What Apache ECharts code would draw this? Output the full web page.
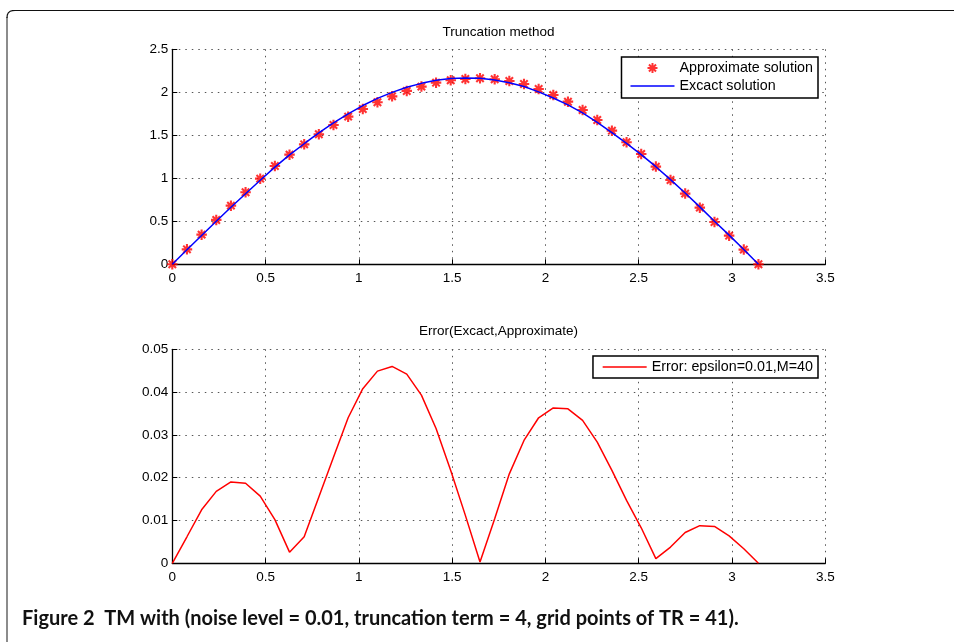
<!DOCTYPE html>
<html>
<head>
<meta charset="utf-8">
<script src="https://cdn.jsdelivr.net/npm/echarts@6/dist/echarts.min.js"></script>
<style>
html,body{margin:0;padding:0;background:#fff;}
#chart{width:954px;height:642px;}
</style>
</head>
<body>
<div id="chart"></div>
<script>
// grid points x_k (k = 0..40 on [0, pi])
const xGrid = [0, 0.0785, 0.1571, 0.2356, 0.3142, 0.3927, 0.4712, 0.5498, 0.6283, 0.7069,
  0.7854, 0.8639, 0.9425, 1.0210, 1.0996, 1.1781, 1.2566, 1.3352, 1.4137, 1.4923,
  1.5708, 1.6493, 1.7279, 1.8064, 1.8850, 1.9635, 2.0420, 2.1206, 2.1991, 2.2777,
  2.3562, 2.4347, 2.5133, 2.5918, 2.6704, 2.7489, 2.8274, 2.9060, 2.9845, 3.0631, 3.1416];

// Approximate solution (stars)
const approxSolution = [0, 0.174, 0.345, 0.516, 0.682, 0.837, 0.996, 1.143, 1.275, 1.395,
  1.512, 1.620, 1.717, 1.806, 1.884, 1.953, 2.016, 2.066, 2.112, 2.140,
  2.155, 2.163, 2.151, 2.132, 2.097, 2.039, 1.969, 1.891, 1.795, 1.678,
  1.554, 1.419, 1.283, 1.136, 0.981, 0.822, 0.659, 0.492, 0.333, 0.171, 0];

// Exact solution (blue line)
const exactSolution = [0, 0.169, 0.335, 0.500, 0.663, 0.820, 0.978, 1.130, 1.272, 1.402,
  1.527, 1.644, 1.750, 1.846, 1.929, 1.999, 2.058, 2.104, 2.140, 2.160,
  2.166, 2.163, 2.143, 2.111, 2.068, 2.005, 1.934, 1.854, 1.761, 1.650,
  1.531, 1.405, 1.275, 1.135, 0.985, 0.829, 0.668, 0.501, 0.339, 0.172, 0];

// Error |exact - approx| (red line)
const errorValues = [0, 0.0062, 0.0125, 0.0168, 0.0190, 0.0187, 0.0157, 0.0102, 0.0026, 0.0062,
  0.0155, 0.0248, 0.0340, 0.0408, 0.0449, 0.0460, 0.0442, 0.0393, 0.0315, 0.0217,
  0.0112, 0.0003, 0.0104, 0.0209, 0.0287, 0.0340, 0.0363, 0.0361, 0.0334, 0.0283,
  0.0217, 0.0147, 0.0083, 0.0011, 0.0038, 0.0072, 0.0088, 0.0086, 0.0064, 0.0034, 0];

const seriesNames = ['Approximate solution', 'Excact solution', 'Error: epsilon=0.01,M=40'];
const plotTitles = ['Truncation method', 'Error(Excact,Approximate)'];
const captionText = 'Figure 2  TM with (noise level = 0.01, truncation term = 4, grid points of TR = 41).';

const starPath = 'path://M8 0L12 0L12 20L8 20Z M0 8L20 8L20 12L0 12Z M4.34 1.52L18.48 15.66L15.66 18.48L1.52 4.34Z M15.66 1.52L18.48 4.34L4.34 18.48L1.52 15.66Z';
const lineIcon = 'path://M0 0L44 0L44 1.5L0 1.5Z';

const FONT = 'Liberation Sans';
const pairs = (ys) => xGrid.map((x, i) => [x, ys[i]]);

function xAx(gi) {
  return {
    type: 'value', gridIndex: gi, min: 0, max: 3.5, interval: 0.5,
    axisLine: { show: true, onZero: false, lineStyle: { color: '#000', width: 1.3 } },
    axisTick: { show: true, inside: true, length: 5, lineStyle: { color: '#000', width: 1 } },
    axisLabel: { color: '#000', fontSize: 13.5, fontFamily: FONT, margin: 7 },
    splitLine: { show: true, lineStyle: { color: '#555', type: [1.5, 5], width: 1 } }
  };
}
function yAx(gi, max, interval) {
  return {
    type: 'value', gridIndex: gi, min: 0, max: max, interval: interval,
    axisLine: { show: true, onZero: false, lineStyle: { color: '#000', width: 1.3 } },
    axisTick: { show: true, inside: true, length: 5, lineStyle: { color: '#000', width: 1 } },
    axisLabel: { color: '#000', fontSize: 13.5, fontFamily: FONT, margin: 4 },
    splitLine: { show: true, lineStyle: { color: '#555', type: [1.5, 5], width: 1 } }
  };
}
const titleStyle = { fontSize: 13.5, fontWeight: 'normal', color: '#000', fontFamily: FONT };
const legendBase = {
  orient: 'vertical', right: 136, itemWidth: 44, itemHeight: 10, itemGap: 2,
  borderColor: '#000', borderWidth: 1.5, borderRadius: 0, backgroundColor: '#fff',
  selectedMode: false,
  textStyle: { fontSize: 14.3, fontFamily: FONT, color: '#000', lineHeight: 16 }
};

const chart = echarts.init(document.getElementById('chart'));
chart.setOption({
  backgroundColor: '#fff',
  animation: false,
  title: [
    { text: plotTitles[0], left: 498.5, top: 25, textAlign: 'center', padding: 0, textStyle: titleStyle },
    { text: plotTitles[1], left: 498.5, top: 324, textAlign: 'center', padding: 0, textStyle: titleStyle }
  ],
  grid: [
    { left: 172.3, top: 49.3, width: 653, height: 215, containLabel: false },
    { left: 172.3, top: 349.3, width: 653, height: 214, containLabel: false }
  ],
  xAxis: [xAx(0), xAx(1)],
  yAxis: [yAx(0, 2.5, 0.5), yAx(1, 0.05, 0.01)],
  legend: [
    Object.assign({}, legendBase, {
      data: [{ name: seriesNames[0] }, { name: seriesNames[1], icon: lineIcon }],
      top: 57, padding: [3, 5, 4, 9]
    }),
    Object.assign({}, legendBase, {
      data: [{ name: seriesNames[2], icon: lineIcon }],
      top: 356, padding: [3, 5, 3, 9.7]
    })
  ],
  series: [
    {
      name: seriesNames[0], type: 'scatter', xAxisIndex: 0, yAxisIndex: 0,
      data: pairs(approxSolution), symbol: starPath, symbolSize: 10.5,
      itemStyle: { color: '#ff0000' }, z: 2
    },
    {
      name: seriesNames[1], type: 'line', xAxisIndex: 0, yAxisIndex: 0,
      data: pairs(exactSolution), symbol: 'none', showSymbol: false,
      lineStyle: { color: '#0000ff', width: 1.5 }, itemStyle: { color: '#0000ff' }, z: 3
    },
    {
      name: seriesNames[2], type: 'line', xAxisIndex: 1, yAxisIndex: 1,
      data: pairs(errorValues), symbol: 'none', showSymbol: false,
      lineStyle: { color: '#ff0000', width: 1.5 }, itemStyle: { color: '#ff0000' }, z: 3
    }
  ],
  graphic: [
    { type: 'rect', silent: true, shape: { x: 6, y: 17, width: 2, height: 630 }, style: { fill: '#8c8c8c' } },
    { type: 'polyline', silent: true,
      shape: { points: [[7, 18], [7.3, 15], [8.3, 12.8], [10.2, 11.3], [12.5, 10.6], [15, 10.5], [954, 10.5]] },
      style: { fill: null, stroke: '#111', lineWidth: 1.2 } },
    { type: 'text', silent: true, left: 22, top: 609,
      style: { text: captionText, fontSize: 20, fontWeight: 'bold', fontFamily: 'Lato', fill: '#111' } }
  ]
});
</script>
</body>
</html>
